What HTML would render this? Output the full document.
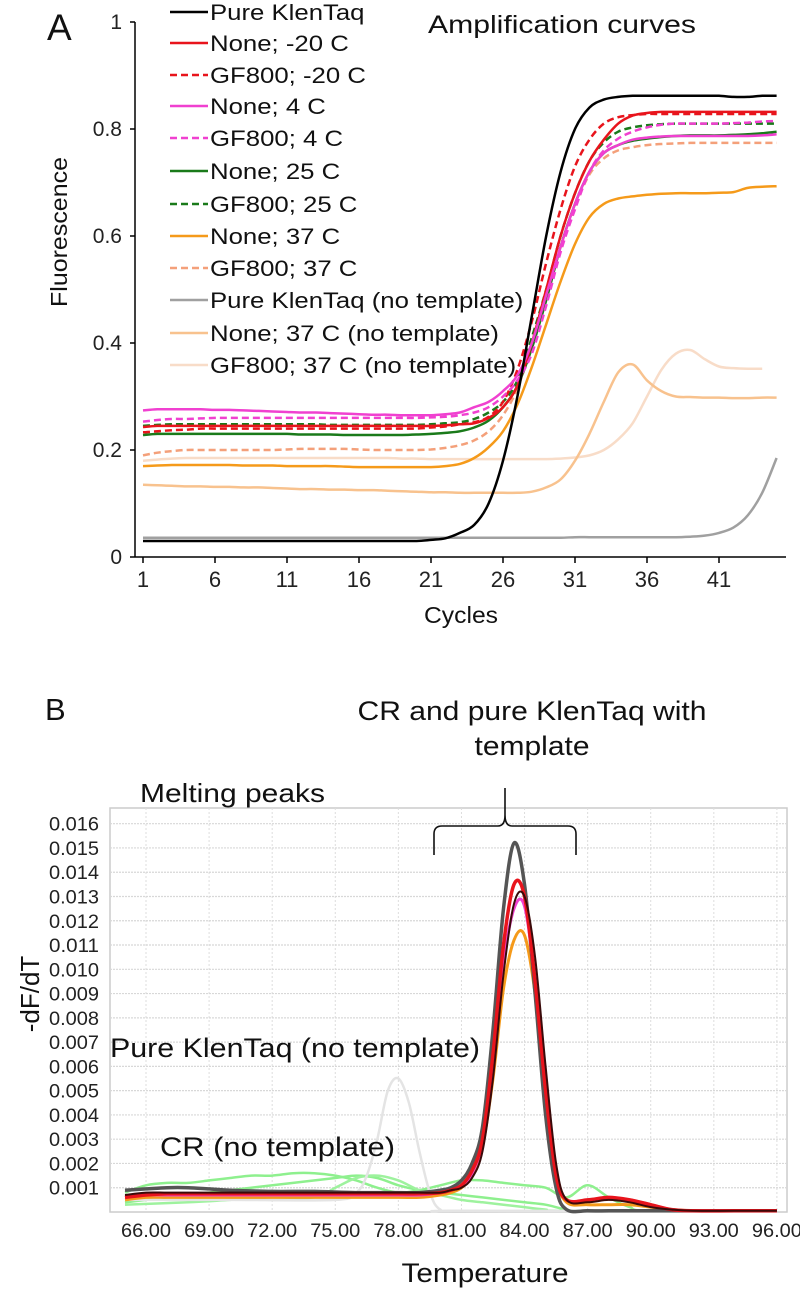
<!DOCTYPE html>
<html><head><meta charset="utf-8"><style>
html,body{margin:0;padding:0;background:#fff;}
svg{display:block;font-family:"Liberation Sans",Arial,sans-serif;}
</style></head><body>
<svg id="fig" width="800" height="1291" viewBox="0 0 800 1291" xmlns="http://www.w3.org/2000/svg">
<g id="panelA"></g>
<g id="panelB"></g>
</svg>
<script>
// ===== Panel A data =====
const cyclesTicks = [1,6,11,16,21,26,31,36,41];
const fluorTicks = [0,0.2,0.4,0.6,0.8,1];
const ampNames = ["Pure KlenTaq","None; -20 C","GF800; -20 C","None; 4 C","GF800; 4 C","None; 25 C","GF800; 25 C","None; 37 C","GF800; 37 C","Pure KlenTaq (no template)","None; 37 C (no template)","GF800; 37 C (no template)"];
const ampColors = ["#000000","#e8141c","#e8141c","#f040d0","#f040d0","#1a7a1a","#1a7a1a","#f59a1a","#f4a07a","#a0a0a0","#f8c28e","#f8dcc8"];
const ampDashed = [false,false,true,false,true,false,true,false,true,false,false,false];
const blackVals = [0.03,0.03,0.03,0.03,0.03,0.03,0.03,0.03,0.03,0.03,0.03,0.03,0.03,0.03,0.03,0.03,0.03,0.03,0.03,0.03,0.032,0.035,0.045,0.06,0.1,0.18,0.3,0.45,0.6,0.72,0.8,0.84,0.855,0.86,0.862,0.862,0.862,0.862,0.862,0.862,0.862,0.86,0.86,0.862,0.862];
const redVals = [0.243,0.245,0.245,0.245,0.245,0.245,0.245,0.245,0.245,0.245,0.245,0.245,0.245,0.245,0.245,0.245,0.245,0.245,0.245,0.245,0.245,0.246,0.248,0.25,0.26,0.28,0.32,0.4,0.5,0.6,0.68,0.74,0.78,0.81,0.825,0.83,0.832,0.832,0.832,0.832,0.832,0.832,0.832,0.832,0.832];
const redDashVals = [0.233,0.235,0.237,0.238,0.24,0.24,0.24,0.24,0.24,0.24,0.24,0.24,0.24,0.24,0.24,0.24,0.24,0.24,0.24,0.24,0.242,0.244,0.248,0.252,0.262,0.29,0.35,0.44,0.55,0.65,0.73,0.78,0.81,0.822,0.826,0.828,0.828,0.828,0.828,0.828,0.828,0.828,0.828,0.828,0.828];
const magVals = [0.274,0.276,0.276,0.276,0.276,0.275,0.275,0.274,0.273,0.272,0.271,0.27,0.27,0.269,0.268,0.267,0.266,0.266,0.265,0.265,0.265,0.267,0.27,0.28,0.29,0.31,0.34,0.4,0.49,0.58,0.66,0.72,0.755,0.77,0.78,0.784,0.786,0.787,0.787,0.787,0.787,0.787,0.787,0.788,0.79];
const magDashVals = [0.253,0.256,0.258,0.258,0.259,0.26,0.26,0.26,0.26,0.26,0.26,0.26,0.26,0.26,0.26,0.26,0.26,0.26,0.26,0.26,0.261,0.262,0.265,0.27,0.28,0.3,0.33,0.38,0.47,0.57,0.65,0.72,0.76,0.782,0.795,0.803,0.808,0.81,0.81,0.81,0.81,0.811,0.812,0.814,0.815];
const greenVals = [0.228,0.23,0.23,0.23,0.23,0.23,0.23,0.23,0.23,0.23,0.23,0.229,0.229,0.229,0.228,0.228,0.228,0.228,0.228,0.229,0.23,0.232,0.235,0.242,0.255,0.28,0.32,0.39,0.48,0.58,0.66,0.72,0.755,0.77,0.778,0.782,0.785,0.787,0.788,0.788,0.788,0.789,0.79,0.792,0.795];
const greenDashVals = [0.245,0.247,0.248,0.248,0.248,0.248,0.248,0.248,0.248,0.248,0.248,0.248,0.248,0.247,0.247,0.247,0.247,0.247,0.247,0.247,0.248,0.25,0.252,0.258,0.27,0.29,0.33,0.41,0.5,0.6,0.68,0.74,0.775,0.795,0.803,0.807,0.809,0.81,0.81,0.81,0.81,0.81,0.81,0.81,0.81];
const orangeVals = [0.17,0.171,0.172,0.172,0.172,0.172,0.172,0.171,0.171,0.171,0.17,0.17,0.17,0.17,0.169,0.168,0.168,0.168,0.168,0.168,0.168,0.17,0.174,0.185,0.205,0.235,0.285,0.355,0.435,0.515,0.585,0.635,0.66,0.67,0.674,0.677,0.679,0.68,0.68,0.68,0.681,0.682,0.69,0.692,0.693];
const salmonVals = [0.19,0.195,0.198,0.2,0.2,0.2,0.2,0.2,0.2,0.2,0.201,0.202,0.202,0.202,0.202,0.201,0.2,0.2,0.2,0.2,0.201,0.204,0.209,0.218,0.235,0.265,0.315,0.395,0.485,0.575,0.655,0.715,0.745,0.76,0.766,0.77,0.772,0.773,0.774,0.774,0.774,0.774,0.774,0.774,0.774];
const grayVals = [0.036,0.036,0.036,0.036,0.036,0.036,0.036,0.036,0.036,0.036,0.036,0.036,0.036,0.036,0.036,0.036,0.036,0.036,0.036,0.036,0.036,0.036,0.036,0.036,0.036,0.036,0.036,0.036,0.036,0.036,0.037,0.037,0.037,0.037,0.037,0.037,0.037,0.037,0.038,0.04,0.045,0.055,0.078,0.12,0.185];
const lightOrVals = [0.135,0.134,0.133,0.132,0.132,0.131,0.131,0.13,0.13,0.129,0.128,0.127,0.127,0.126,0.126,0.125,0.125,0.124,0.123,0.122,0.121,0.121,0.12,0.12,0.12,0.12,0.12,0.122,0.13,0.145,0.18,0.23,0.29,0.345,0.36,0.33,0.31,0.3,0.299,0.298,0.298,0.297,0.297,0.298,0.298];
const peachVals = [0.18,0.182,0.184,0.185,0.185,0.185,0.185,0.185,0.185,0.185,0.185,0.185,0.185,0.185,0.185,0.185,0.185,0.185,0.184,0.184,0.183,0.183,0.183,0.183,0.183,0.183,0.183,0.183,0.183,0.184,0.186,0.19,0.2,0.22,0.25,0.3,0.35,0.38,0.387,0.37,0.356,0.353,0.352,0.352];
const ampSeries = [blackVals,redVals,redDashVals,magVals,magDashVals,greenVals,greenDashVals,orangeVals,salmonVals,grayVals,lightOrVals,peachVals];
const ampDrawOrder = [11,10,9,7,8,5,6,1,2,3,4,0];

// ===== Panel B data =====
const tempTicks = [66,69,72,75,78,81,84,87,90,93,96];
const dfTicks = [0.001,0.002,0.003,0.004,0.005,0.006,0.007,0.008,0.009,0.010,0.011,0.012,0.013,0.014,0.015,0.016];
const peakT = [65,66,67,68,69,70,72,74,76,78,79,80,80.5,81,81.5,82,82.5,83,83.5,84,84.5,85,85.5,86,87,88,89,90,91,92,94,96];
const g1T = [65,67,69,71,73,75,76,77,78,79,80,81,82,83,84,85,86,87,96];
const g1V = [0.0004,0.0006,0.0008,0.001,0.0012,0.0014,0.0015,0.0014,0.0011,0.0009,0.0008,0.0007,0.0006,0.0005,0.0004,0.0003,0.0001,0.00005,0.00005];
const g2T = [65,66,67,68,69,70,71,72,73,74,75,76,77,78,79,80,81,82,83,84,85,86,87,88,89,90,96];
const g2V = [0.0008,0.0011,0.0012,0.0012,0.0013,0.0014,0.0015,0.0015,0.0016,0.0016,0.0015,0.0013,0.001,0.0008,0.0009,0.0011,0.0013,0.0013,0.0012,0.0011,0.001,0.0006,0.0011,0.0006,0.0002,0.00005,0.00005];
const g3T = [65,68,70,72,74,75,76,77,78,79,80,81,82,83,84,85,86,96];
const g3V = [0.0003,0.0004,0.0005,0.0006,0.0006,0.001,0.0014,0.0015,0.0013,0.0009,0.0007,0.0005,0.0004,0.0003,0.0002,0.0001,0.00005,0.00005];
const lgT = [65,70,75,76,76.5,77,77.5,78,78.5,79,79.5,80,81,96];
const lgV = [0.0005,0.0005,0.0005,0.0008,0.0015,0.003,0.005,0.0055,0.0045,0.0025,0.0008,0.0001,0.00005,0.00005];
const darkV = [0.0009,0.00095,0.001,0.001,0.00095,0.0009,0.00085,0.00085,0.0008,0.0008,0.0008,0.0009,0.001,0.0013,0.002,0.0035,0.0075,0.0125,0.0152,0.0135,0.009,0.004,0.001,0.0001,0.00005,0.00005,0.00005,0.00005,0.00005,0.00005,0.00005,0.00005];
const orV = [0.0005,0.0006,0.0006,0.0006,0.0006,0.0006,0.0006,0.0006,0.0006,0.0006,0.0006,0.0007,0.0008,0.001,0.0015,0.0027,0.0055,0.0092,0.0112,0.0114,0.009,0.005,0.0015,0.0004,0.0003,0.0003,0.0003,0.0002,0.0001,0.00005,0.00005,0.00005];
const magBV = [0.0006,0.0007,0.0007,0.0007,0.0007,0.0007,0.0007,0.0007,0.0007,0.0007,0.0007,0.0008,0.0009,0.0011,0.0016,0.0029,0.006,0.0102,0.0125,0.0126,0.0095,0.005,0.0015,0.0005,0.0005,0.0006,0.0005,0.0003,0.0001,0.00005,0.00005,0.00005];
const redBV = [0.0006,0.0007,0.00075,0.00075,0.00075,0.00075,0.00075,0.00075,0.00075,0.00075,0.00075,0.0008,0.0009,0.0011,0.0017,0.003,0.0065,0.011,0.0135,0.013,0.0095,0.005,0.0015,0.0005,0.0005,0.0006,0.0005,0.0003,0.0001,0.00005,0.00005,0.00005];
const blackBV = [0.0007,0.0008,0.0008,0.0008,0.0008,0.0008,0.0008,0.0008,0.0008,0.0008,0.0008,0.0008,0.0009,0.001,0.0014,0.0025,0.0055,0.0098,0.0127,0.013,0.0105,0.006,0.002,0.0005,0.0004,0.0005,0.0004,0.0002,0.0001,0.00005,0.00005,0.00005];

const NS = "http://www.w3.org/2000/svg";
function mk(parent, tag, attrs){const e=document.createElementNS(NS,tag);for(const k in attrs)e.setAttribute(k,attrs[k]);parent.appendChild(e);return e;}
function stretch(t,k){const w=t.getComputedTextLength();t.setAttribute('textLength',(w*k).toFixed(1));t.setAttribute('lengthAdjust','spacingAndGlyphs');}
function smoothPath(pts){
  let d="M"+pts[0][0].toFixed(1)+","+pts[0][1].toFixed(1);
  for(let i=0;i<pts.length-1;i++){
    const p0=pts[Math.max(0,i-1)],p1=pts[i],p2=pts[i+1],p3=pts[Math.min(pts.length-1,i+2)];
    const c1x=p1[0]+(p2[0]-p0[0])/6,c1y=p1[1]+(p2[1]-p0[1])/6,c2x=p2[0]-(p3[0]-p1[0])/6,c2y=p2[1]-(p3[1]-p1[1])/6;
    d+=" C"+c1x.toFixed(1)+","+c1y.toFixed(1)+" "+c2x.toFixed(1)+","+c2y.toFixed(1)+" "+p2[0].toFixed(1)+","+p2[1].toFixed(1);
  }
  return d;
}

// ===== Panel A =====
(function(){
  const g=document.getElementById('panelA');
  const xA=c=>143+(c-1)*14.4;
  const yA=v=>557-v*535;
  const ax=mk(g,'line',{x1:135,y1:22,x2:135,y2:557,stroke:'#000','stroke-width':1.5});
  
  
  const bx=mk(g,'line',{x1:135,y1:557,x2:786,y2:557,stroke:'#000','stroke-width':1.5});
  
  
  fluorTicks.forEach(v=>{
    const t=mk(g,'line',{x1:130,y1:yA(v),x2:135,y2:yA(v),stroke:'#000','stroke-width':1.5});
    
    
    const l=mk(g,'text',{x:122,y:yA(v)+7,'text-anchor':'end','font-size':21,fill:'#222'});
    l.textContent=String(v);
    
    
  });
  cyclesTicks.forEach(c=>{
    const t=mk(g,'line',{x1:xA(c),y1:557,x2:xA(c),y2:563,stroke:'#000','stroke-width':1.5});
    
    
    const l=mk(g,'text',{x:xA(c),y:587,'text-anchor':'middle','font-size':22,fill:'#222'});
    l.textContent=String(c);
    
    
  });
  ampDrawOrder.forEach(i=>{
    const pts=ampSeries[i].map((v,k)=>[xA(k+1),yA(v)]);
    const p=mk(g,'path',{d:smoothPath(pts),fill:'none',stroke:ampColors[i],'stroke-width':2.5});
    if(ampDashed[i])p.setAttribute('stroke-dasharray','7,4');
    
    
  });
  const lg=mk(g,'g',{});
  
  
  const rows=[12,43,75,106,138,171,204,236,268,300,333,365];
  ampNames.forEach((n,i)=>{
    const e=mk(lg,'g',{});
    
    
    const ln=mk(e,'line',{x1:170,y1:rows[i],x2:208,y2:rows[i],stroke:ampColors[i],'stroke-width':2.5});
    if(ampDashed[i])ln.setAttribute('stroke-dasharray','7,4');
    const tx=mk(e,'text',{x:210,y:rows[i]+8,'font-size':22,fill:'#111'});
    tx.textContent=n;
    stretch(tx,1.17);
  });
  const A=mk(g,'text',{x:47,y:40,'font-size':37,fill:'#111'});A.textContent='A';
  
  
  const ti=mk(g,'text',{x:428,y:33,'font-size':25,fill:'#111',textLength:268,lengthAdjust:'spacingAndGlyphs'});ti.textContent='Amplification curves';
  
  
  const yl=mk(g,'text',{x:0,y:0,'font-size':23,fill:'#111','text-anchor':'middle',textLength:150,lengthAdjust:'spacingAndGlyphs',transform:'translate(67,232) rotate(-90)'});yl.textContent='Fluorescence';
  
  
  const xl=mk(g,'text',{x:461,y:623,'font-size':23,fill:'#111','text-anchor':'middle',textLength:74,lengthAdjust:'spacingAndGlyphs'});xl.textContent='Cycles';
  
  
})();

// ===== Panel B =====
(function(){
  const g=document.getElementById('panelB');
  const xB=t=>146+(t-66)*21.03;
  const yB=v=>1212-v*24270;
  const fr=mk(g,'rect',{x:110,y:808,width:677,height:404,fill:'none',stroke:'#ccc','stroke-width':1.5});
  
  
  tempTicks.forEach(t=>{
    const gl=mk(g,'line',{x1:xB(t),y1:808,x2:xB(t),y2:1212,stroke:'#ddd','stroke-width':1,'stroke-dasharray':'2,2'});
    
    
    const l=mk(g,'text',{x:xB(t),y:1237,'text-anchor':'middle','font-size':19,fill:'#222',textLength:50,lengthAdjust:'spacingAndGlyphs'});
    l.textContent=t.toFixed(2);
    
    
  });
  dfTicks.forEach(v=>{
    const gl=mk(g,'line',{x1:110,y1:yB(v),x2:787,y2:yB(v),stroke:'#d8d8d8','stroke-width':1.2,'stroke-dasharray':'2,1'});
    
    
    const l=mk(g,'text',{x:99,y:yB(v)+7,'text-anchor':'end','font-size':19,fill:'#222',textLength:50,lengthAdjust:'spacingAndGlyphs'});
    l.textContent=v.toFixed(3);
    
    
  });
  const series=[
    ['cr-green-1',g1T,g1V,'#8ef08e',2.5],
    ['cr-green-2',g2T,g2V,'#8ef08e',2.5],
    ['cr-green-3',g3T,g3V,'#9ef29e',2.5],
    ['pure-no-template',lgT,lgV,'#e4e4e4',2.5],
    ['peak-orange',peakT,orV,'#f59a1a',3],
    ['peak-gray',peakT,darkV,'#555555',3.5],
    ['peak-magenta',peakT,magBV,'#f040d0',3],
    ['peak-red',peakT,redBV,'#e8141c',3.5],
    ['peak-black',peakT,blackBV,'#3a0a0a',2]
  ];
  series.forEach(s=>{
    const pts=s[1].map((t,k)=>[xB(t),yB(s[2][k])]);
    const p=mk(g,'path',{d:smoothPath(pts),fill:'none',stroke:s[3],'stroke-width':s[4],'stroke-linejoin':'round'});
    
    
  });
  const br=mk(g,'path',{d:'M434,855 L434,834 Q434,826 442,826 L498,826 Q505,826 505,815 L505,788 M505,815 Q505,826 512,826 L568,826 Q576,826 576,834 L576,855',fill:'none',stroke:'#111','stroke-width':1.6});
  
  
  const txt=[['B',45,720,31,'start','panel-label-b',0],['CR and pure KlenTaq with',532,720,27,'middle','annotation-cr-template',349],['template',532,755,27,'middle','annotation-cr-template-2',115],['Melting peaks',140,802,26,'start','chart-title-b',185],['Pure KlenTaq (no template)',110,1057,27,'start','annotation-pure-no-template',370],['CR (no template)',160,1156,27,'start','annotation-cr-no-template',235],['Temperature',485,1282,27,'middle','x-axis-title-b',167]];
  txt.forEach(a=>{
    const t=mk(g,'text',{x:a[1],y:a[2],'font-size':a[3],'text-anchor':a[4],fill:'#111'});
    if(a[6]){t.setAttribute('textLength',a[6]);t.setAttribute('lengthAdjust','spacingAndGlyphs');}
    t.textContent=a[0];
    
    
  });
  const yl=mk(g,'text',{x:0,y:0,'font-size':26,fill:'#111','text-anchor':'middle',transform:'translate(39,994) rotate(-90)'});yl.textContent='-dF/dT';
  
  
})();
</script>
</body></html>
